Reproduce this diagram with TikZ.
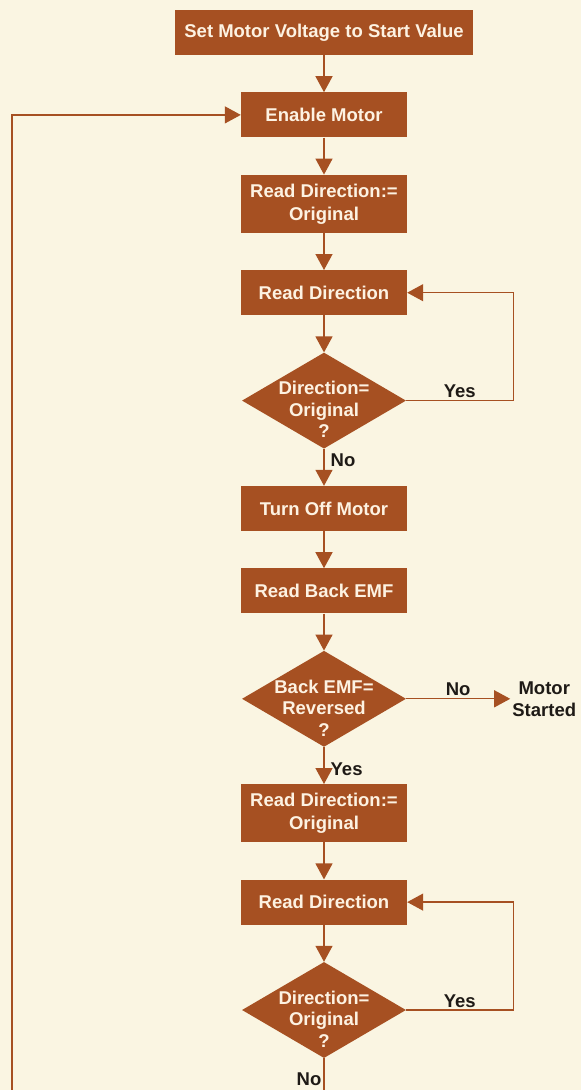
\documentclass[tikz,border=0pt]{standalone}
\usepackage{fontspec}
\setmainfont{Liberation Sans}
\usepackage{tikz}
\usetikzlibrary{positioning,arrows.meta,shapes.geometric}
\definecolor{rust}{RGB}{166,80,34}
\definecolor{paper}{RGB}{250,245,226}
\definecolor{cream}{RGB}{253,242,226}
\definecolor{ink}{RGB}{30,26,22}
\tikzset{
  action/.style={
    fill=rust,
    minimum width=166pt,
    minimum height=45pt,
    align=center,
    inner sep=2pt,
    text=cream,
    font=\fontsize{18.5}{23}\selectfont\bfseries
  },
  decision/.style={
    diamond,
    fill=rust,
    minimum width=164pt,
    minimum height=96pt,
    inner sep=0pt
  },
  question/.style={
    align=center,
    inner sep=0pt,
    text=cream,
    font=\fontsize{18.5}{21.5}\selectfont\bfseries
  },
  branch/.style={
    text=ink,
    inner sep=2pt,
    font=\fontsize{18.5}{22}\selectfont\bfseries
  },
  link/.style={
    -{Triangle[length=16pt,width=17pt]},
    line width=1.3pt,
    rust
  }
}

\begin{document}
\begin{tikzpicture}[x=1pt, y=1pt, node distance=37pt]

\path[fill=paper, use as bounding box] (0,0) rectangle (581,-1090);

\node[action, minimum width=298pt] (setvolt) at (324,-32.5) {Set Motor Voltage to Start Value};

\node[action, below=of setvolt] (enable) {Enable Motor};

\node[action, minimum height=58pt, below=of enable] (setdir1) {Read Direction:=\\Original};

\node[action, below=of setdir1] (readdir1) {Read Direction};

\node[decision, below=of readdir1] (isorig1) {};
\node[question] (isorig1txt) at ([yshift=-9pt]isorig1) {Direction=\\Original\\?};

\node[action, below=of isorig1] (motoroff) {Turn Off Motor};

\node[action, below=of motoroff] (reademf) {Read Back EMF};

\node[decision, below=of reademf] (isrev) {};
\node[question] (isrevtxt) at ([yshift=-9pt]isrev) {Back EMF=\\Reversed\\?};

\node[branch, align=center, right=104pt of isrev] (started) {Motor\\Started};

\node[action, minimum height=58pt, below=of isrev] (setdir2) {Read Direction:=\\Original};

\node[action, below=of setdir2] (readdir2) {Read Direction};

\node[decision, below=of readdir2] (isorig2) {};
\node[question] (isorig2txt) at ([yshift=-9pt]isorig2) {Direction=\\Original\\?};

\coordinate (back) at (12,-1110);

\draw[link] (setvolt) -- (enable);
\draw[link] (enable) -- (setdir1);
\draw[link] (setdir1) -- (readdir1);
\draw[link] (readdir1) -- (isorig1);
\draw[link] (isorig1) -- node[branch, right=4pt, pos=0.3] (no1) {No} (motoroff);
\draw[link] (isorig1.east) -- node[branch, above] (yes1) {Yes} ++(107,0) |- (readdir1.east);
\draw[link] (motoroff) -- (reademf);
\draw[link] (reademf) -- (isrev);
\draw[link] (isrev) -- node[branch, above] (no2) {No} (started);
\draw[link] (isrev) -- node[branch, right=4pt, pos=0.6] (yes2) {Yes} (setdir2);
\draw[link] (setdir2) -- (readdir2);
\draw[link] (readdir2) -- (isorig2);
\draw[link] (isorig2.east) -- node[branch, above] (yes3) {Yes} ++(107,0) |- (readdir2.east);
\draw[link] (isorig2.south) |- node[branch, left, pos=0.2] (no3) {No} (back) |- (enable.west);

\end{tikzpicture}
\end{document}
